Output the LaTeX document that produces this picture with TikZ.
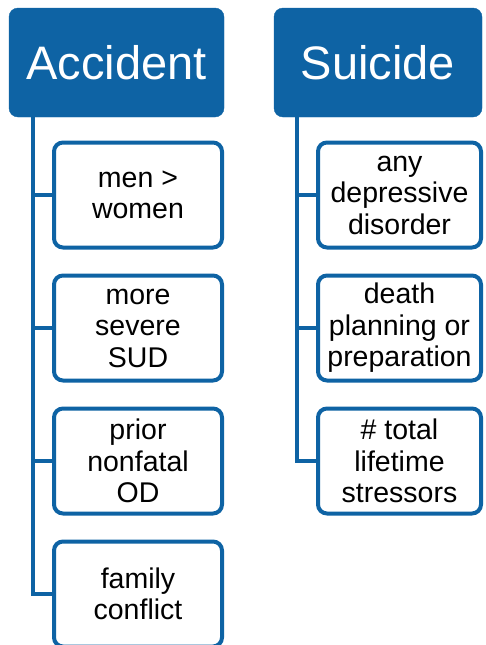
\documentclass[tikz,border=0pt]{standalone}
\usepackage{fontspec}
\setmainfont{Liberation Sans}
\usetikzlibrary{positioning, calc}
\definecolor{headcolor}{RGB}{14, 99, 164}

\begin{document}
\begin{tikzpicture}[
    x=1pt, y=1pt,
    node distance=24pt,
    head/.style={rectangle, rounded corners=9pt, fill=headcolor, draw=headcolor, text=white, minimum height=109pt, align=center, font=\fontsize{47}{54}\selectfont},
    item/.style={rectangle, rounded corners=9pt, draw=headcolor, line width=4pt, fill=white, minimum height=105pt, align=center, font=\fontsize{28.5}{31.5}\selectfont},
    link/.style={draw=headcolor, line width=4pt},
]
\useasboundingbox (0,0) rectangle (485,-645);

% ============ headers ============
\node[head, minimum width=215pt] (acc) at (116.5,-62.5) {Accident};
\node[head, minimum width=208pt] (sui) at (378,-62.5) {Suicide};

% ============ Accident ============
\node[item, minimum width=168pt] (acc1) at (138,-195) {men >\\women};
\node[item, minimum width=168pt, below=of acc1] (acc2) {more\\severe\\SUD};
\node[item, minimum width=168pt, below=of acc2] (acc3) {prior\\nonfatal\\OD};
\node[item, minimum width=168pt, below=of acc3] (acc4) {family\\conflict};

% ============ Suicide ============
\node[item, minimum width=163pt] (sui1) at (399.5,-195) {any\\depressive\\disorder};
\node[item, minimum width=163pt, below=of sui1] (sui2) {death\\planning or\\preparation};
\node[item, minimum width=163pt, below=of sui2] (sui3) {\# total\\lifetime\\stressors};

% ============ links ============
\coordinate (acctop) at ($(acc.south west)+(24pt,0)$);
\coordinate (suitop) at ($(sui.south west)+(23pt,0)$);
\foreach \i in {1,...,4}
    \draw[link] (acctop) |- (acc\i.west);
\foreach \i in {1,...,3}
    \draw[link] (suitop) |- (sui\i.west);

\end{tikzpicture}
\end{document}
